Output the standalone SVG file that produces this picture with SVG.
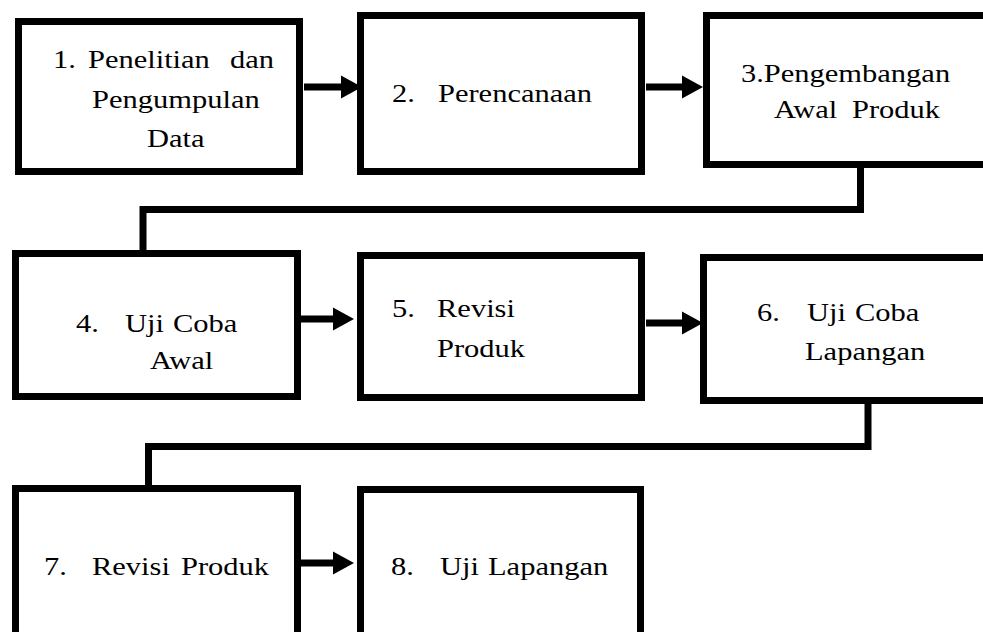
<svg xmlns="http://www.w3.org/2000/svg" width="983" height="632" viewBox="0 0 983 632">
<style>
.box{fill:#fff;stroke:#000;stroke-width:7}
.conn{fill:none;stroke:#000;stroke-width:7;stroke-linejoin:miter}
.t{font-family:'Liberation Serif','Times New Roman',serif;font-size:26px;fill:#000}
</style>
<defs>
<marker id="ah" markerUnits="userSpaceOnUse" markerWidth="22" markerHeight="24" refX="0" refY="11.5" orient="auto" overflow="visible">
<path d="M0,0 L21,11.5 L0,23 Z" fill="#000"/>
</marker>
</defs>
<rect width="983" height="632" fill="#fff"/>
<g id="connectors">
<line class="conn" x1="304" y1="87" x2="341" y2="87" marker-end="url(#ah)"/>
<line class="conn" x1="646" y1="87" x2="682" y2="87" marker-end="url(#ah)"/>
<line class="conn" x1="301" y1="319" x2="333" y2="319" marker-end="url(#ah)"/>
<line class="conn" x1="646" y1="323" x2="682" y2="323" marker-end="url(#ah)"/>
<line class="conn" x1="301" y1="563" x2="333" y2="563" marker-end="url(#ah)"/>
<path class="conn" d="M860.5 168 V209.5 H143 V251"/>
<path class="conn" d="M868 403 V446.5 H148.5 V486"/>
</g>
<g id="node1">
<rect class="box" x="18.5" y="21.5" width="281" height="150"/>
<text class="t" transform="translate(53,68) scale(1.173,1)"><tspan x="0">1. </tspan><tspan x="29.8">Penelitian </tspan><tspan x="150.9">dan</tspan></text>
<text class="t" transform="translate(92,108) scale(1.173,1)">Pengumpulan</text>
<text class="t" transform="translate(147,147) scale(1.173,1)">Data</text>
</g>
<g id="node2">
<rect class="box" x="360.5" y="15.5" width="281" height="156"/>
<text class="t" transform="translate(392,102) scale(1.173,1)"><tspan x="0">2. </tspan><tspan x="39.2">Perencanaan</tspan></text>
</g>
<g id="node3">
<rect class="box" x="706.5" y="15.5" width="282" height="149"/>
<text class="t" transform="translate(741,82) scale(1.173,1)">3.Pengembangan</text>
<text class="t" transform="translate(774,118) scale(1.173,1)"><tspan x="0">Awal </tspan><tspan x="66.5">Produk</tspan></text>
</g>
<g id="node4">
<rect class="box" x="15.5" y="253.5" width="282" height="143"/>
<text class="t" transform="translate(76,332) scale(1.173,1)"><tspan x="0">4. </tspan><tspan x="41.8">Uji </tspan><tspan x="82.7">Coba</tspan></text>
<text class="t" transform="translate(150,369) scale(1.173,1)">Awal</text>
</g>
<g id="node5">
<rect class="box" x="360.5" y="255.5" width="281" height="142"/>
<text class="t" transform="translate(392,317) scale(1.173,1)"><tspan x="0">5. </tspan><tspan x="38.4">Revisi</tspan></text>
<text class="t" transform="translate(437,357) scale(1.173,1)">Produk</text>
</g>
<g id="node6">
<rect class="box" x="703.5" y="257.5" width="285" height="143"/>
<text class="t" transform="translate(757,321) scale(1.173,1)"><tspan x="0">6. </tspan><tspan x="42.6">Uji </tspan><tspan x="83.5">Coba</tspan></text>
<text class="t" transform="translate(805,360) scale(1.173,1)">Lapangan</text>
</g>
<g id="node7">
<rect class="box" x="15.5" y="488.5" width="282" height="160"/>
<text class="t" transform="translate(44,575) scale(1.173,1)"><tspan x="0">7. </tspan><tspan x="40.9">Revisi </tspan><tspan x="116.8">Produk</tspan></text>
</g>
<g id="node8">
<rect class="box" x="360.5" y="489.5" width="280" height="160"/>
<text class="t" transform="translate(391,575) scale(1.173,1)"><tspan x="0">8. </tspan><tspan x="41.8">Uji </tspan><tspan x="82.7">Lapangan</tspan></text>
</g>
</svg>
